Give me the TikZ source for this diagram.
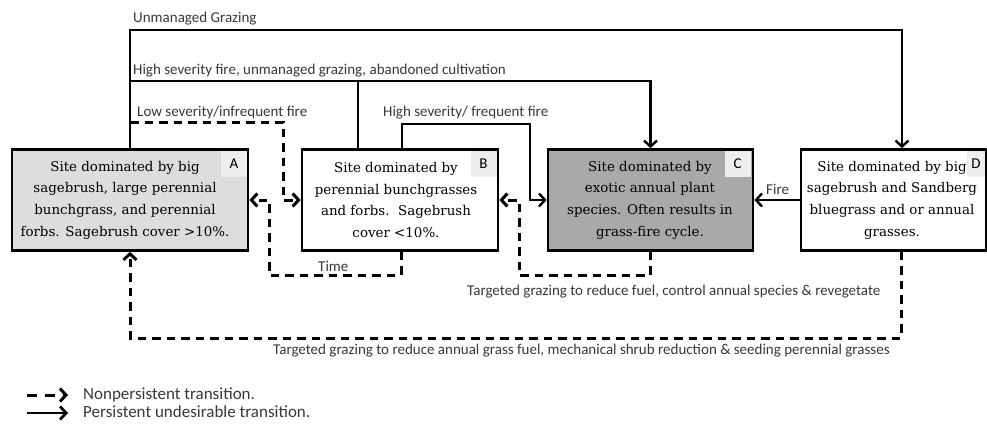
\documentclass[tikz,border=0pt]{standalone}
\usepackage{fontspec}
\setmainfont{DejaVu Serif}
\newfontfamily\lblfont{Carlito}
\usetikzlibrary{arrows.meta}
\definecolor{boxA}{HTML}{DDDDDD}
\definecolor{boxC}{HTML}{A9A9A9}
\definecolor{cellc}{HTML}{EEEEEE}
\definecolor{lblc}{HTML}{383838}
\begin{document}
\begin{tikzpicture}[x=1pt,y=-1pt,
  state/.style={draw=black, line width=2.7pt, minimum height=101pt, inner sep=0pt},
  boxtext/.style={align=center, inner sep=0pt, font=\fontsize{13.4}{21.7}\selectfont},
  cell/.style={fill=cellc, minimum width=26pt, minimum height=26pt, inner sep=0pt,
    font=\lblfont\fontsize{15}{15}\selectfont},
  lbl/.style={font=\lblfont\fontsize{15}{17}\selectfont, text=lblc, inner sep=0pt, anchor=base west},
  leg/.style={font=\lblfont\fontsize{17}{19}\selectfont, text=lblc, inner sep=0pt, anchor=base west},
  barb/.style={-{Straight Barb[length=6pt,width=13pt]}},
  solidarr/.style={line width=2.4pt, barb},
  plainline/.style={line width=2.4pt},
  dasharr/.style={line width=3pt, dash pattern=on 8.5pt off 6pt, barb}
]
\useasboundingbox (0,0) rectangle (987,426);

% state boxes
\node[state, fill=boxA, minimum width=236pt] (A) at (130,200) {};
\node[state, fill=white, minimum width=196pt] (B) at (400,200) {};
\node[state, fill=boxC, minimum width=205pt] (C) at (650.5,200) {};
\node[state, fill=white, minimum width=185pt] (D) at (893.5,200) {};

% letter cells
\node[cell] (Alab) at (234,163.5) {A};
\node[cell] (Blab) at (483.5,163.5) {B};
\node[cell] (Clab) at (737.5,163.5) {C};
\node[cell, minimum width=18pt] (Dlab) at (976,163.5) {D};

% box texts
\node[boxtext] (At) at (125,200)
  {Site dominated by big\\sagebrush, large perennial\\bunchgrass, and perennial\\forbs. Sagebrush cover >10\%.};
\node[boxtext] (Bt) at (396,200)
  {Site dominated by\\perennial bunchgrasses\\and forbs.\ \ Sagebrush\\cover <10\%.};
\node[boxtext] (Ct) at (650,200)
  {Site dominated by\\exotic annual plant\\species. Often results in\\grass-fire cycle.};
\node[boxtext] (Dt) at (892,200)
  {Site dominated by big\\sagebrush and Sandberg\\bluegrass and or annual\\grasses.};

% waypoints
\coordinate (ugy) at (0,30);
\coordinate (hsy) at (0,81);
\coordinate (ffc) at (530,124);
\coordinate (lss) at (130,122);
\coordinate (lsc) at (283,122);
\coordinate (tc) at (269,275);
\coordinate (gc) at (519,275);
\coordinate (bc) at (130,338);

% persistent transitions
\draw[solidarr] (A.north) -- (A.north |- ugy) -| ([xshift=8.5pt]D.north);
\draw[solidarr] (A.north) -- (A.north |- hsy) -| (C.north);
\draw[plainline] ([xshift=-42pt]B.north) -- ([xshift=-42pt]B.north |- hsy);
\draw[solidarr] ([xshift=2pt]B.north) |- (ffc) |- (C.west);
\draw[solidarr] (D.west) -- (C.east);

% nonpersistent transitions
\draw[dasharr] (lss) -- (lsc) |- (B.west);
\draw[dasharr] ([xshift=1pt]B.south) |- (tc) |- (A.east);
\draw[dasharr] (C.south) |- (gc) |- (B.east);
\draw[dasharr] ([xshift=7.5pt]D.south) |- (bc) -- (A.south);

% labels
\node[lbl] (l1) at (133,22) {Unmanaged Grazing};
\node[lbl] (l2) at (133,74) {High severity fire, unmanaged grazing, abandoned cultivation};
\node[lbl] (l3) at (137,116) {Low severity/infrequent fire};
\node[lbl] (l4) at (383,116) {High severity/ frequent fire};
\node[lbl] (l5) at (766,194) {Fire};
\node[lbl] (l6) at (318,271) {Time};
\node[lbl] (l7) at (467,295) {Targeted grazing to reduce fuel, control annual species \& revegetate};
\node[lbl] (l8) at (273,354) {Targeted grazing to reduce annual grass fuel, mechanical shrub reduction \& seeding perennial grasses};

% legend
\coordinate (g1s) at (27,395);
\coordinate (g1e) at (68,395);
\coordinate (g2s) at (27,413);
\coordinate (g2e) at (68,413);
\draw[dasharr, dash pattern=on 10pt off 8pt] (g1s) -- (g1e);
\draw[solidarr, line width=2.8pt] (g2s) -- (g2e);
\node[leg] (t1) at (83,399) {Nonpersistent transition.};
\node[leg] (t2) at (83,417) {Persistent undesirable transition.};
\end{tikzpicture}
\end{document}
